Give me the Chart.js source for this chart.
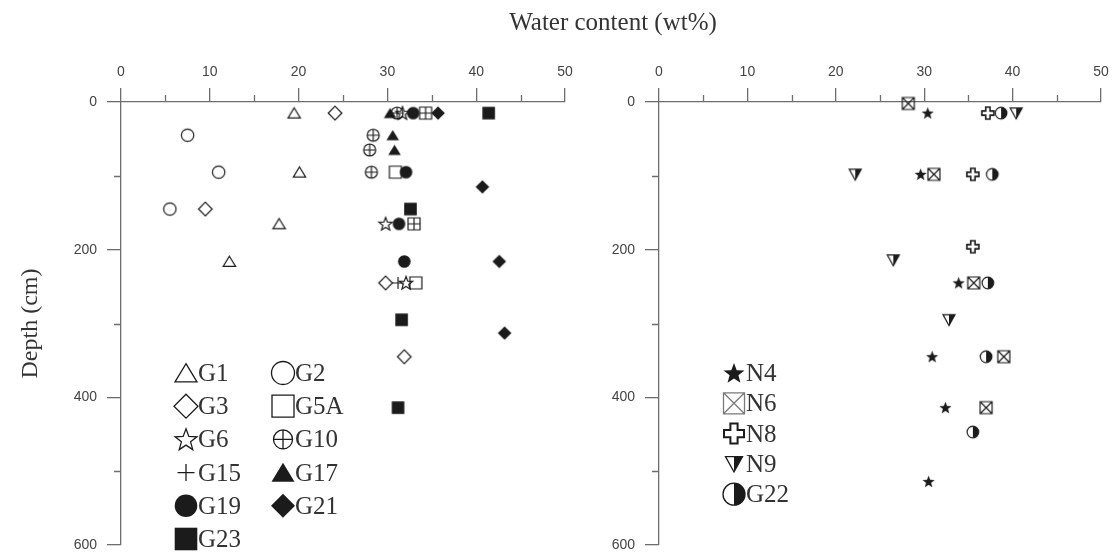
<!DOCTYPE html>
<html>
<head>
<meta charset="utf-8">
<title>Water content vs depth</title>
<script src="https://cdn.jsdelivr.net/npm/chart.js@4.4.0/dist/chart.umd.min.js"></script>
<style>
  html, body { margin: 0; padding: 0; background: #fff; }
  #wrap { position: relative; width: 1118px; height: 558px; }
  #wrap canvas { position: absolute; left: 0; top: 0; }
</style>
</head>
<body>
<div id="wrap">
  <canvas id="leftChart" width="1118" height="558"></canvas>
  <canvas id="rightChart" width="1118" height="558"></canvas>
</div>
<script>
// rows are [water content (wt%), depth (cm)]
const G1 = [[19.5, 15], [20.1, 95], [17.8, 165], [12.2, 216]];
const G2 = [[7.5, 45], [11.0, 95], [5.5, 145]];
const G3 = [[24.1, 15], [9.5, 145], [29.8, 245], [31.9, 345]];
const G5A = [[34.3, 15], [30.9, 95], [33.0, 165], [33.2, 245]];
const G6 = [[31.7, 15], [29.8, 165], [32.1, 245]];
const G10 = [[31.1, 15], [28.4, 45], [28.0, 65], [28.2, 95]];
const G15 = [[34.3, 15], [33.0, 165], [31.2, 245]];
const G17 = [[30.3, 15], [30.6, 45], [30.8, 65]];
const G19 = [[32.9, 15], [32.1, 95], [31.3, 165], [31.9, 216]];
const G21 = [[35.7, 15], [40.7, 115], [42.6, 216], [43.2, 313]];
const G23 = [[41.4, 15], [32.6, 145], [31.6, 295], [31.2, 414]];

const N4 = [[30.4, 15], [29.6, 98], [33.9, 245], [30.9, 345], [32.4, 414], [30.5, 514]];
const N6 = [[28.2, 2], [31.1, 98], [35.6, 245], [39.0, 345], [37.0, 414]];
const N8 = [[37.2, 15], [35.5, 98], [35.5, 196]];
const N9 = [[40.4, 15], [22.2, 98], [26.5, 214], [32.8, 295]];
const G22 = [[38.7, 15], [37.7, 98], [37.2, 245], [37.0, 345], [35.5, 447]];

const waterTicks = [0, 10, 20, 30, 40, 50];
const waterMinor = [5, 15, 25, 35, 45];
const depthTicks = [0, 200, 400, 600];
const depthMinor = [100, 300, 500];

const INK = '#1b1b1b';
const AXIS = '#6e6e6e';
const LABEL = '#444';
const SERIF = '"Liberation Serif", "DejaVu Serif", serif';

Chart.defaults.font.family = '"Liberation Sans", Arial, sans-serif';

// marker drawing, s = half extent
function drawSymbol(ctx, kind, x, y, s, lw, color) {
  const PI = Math.PI;
  ctx.save();
  ctx.translate(x, y);
  ctx.lineWidth = lw || 1.2;
  ctx.strokeStyle = color || INK;
  ctx.fillStyle = color || INK;
  ctx.beginPath();
  if (kind === 'triangle' || kind === 'triangleFilled') {
    ctx.moveTo(0, -0.85 * s); ctx.lineTo(s, 0.8 * s); ctx.lineTo(-s, 0.8 * s); ctx.closePath();
    kind === 'triangle' ? ctx.stroke() : ctx.fill();
  } else if (kind === 'circle' || kind === 'circleFilled') {
    ctx.arc(0, 0, s, 0, 2 * PI);
    kind === 'circle' ? ctx.stroke() : ctx.fill();
  } else if (kind === 'diamond' || kind === 'diamondFilled') {
    ctx.moveTo(0, -s); ctx.lineTo(s, 0); ctx.lineTo(0, s); ctx.lineTo(-s, 0); ctx.closePath();
    kind === 'diamond' ? ctx.stroke() : ctx.fill();
  } else if (kind === 'square' || kind === 'squareFilled') {
    ctx.rect(-s, -s, 2 * s, 2 * s);
    kind === 'square' ? ctx.stroke() : ctx.fill();
  } else if (kind === 'star' || kind === 'starFilled') {
    for (let i = 0; i < 10; i++) {
      const r = i % 2 ? s * 0.42 : s;
      const a = -PI / 2 + i * PI / 5;
      ctx.lineTo(r * Math.cos(a), r * Math.sin(a) + 0.08 * s);
    }
    ctx.closePath();
    kind === 'star' ? ctx.stroke() : ctx.fill();
  } else if (kind === 'circlePlus') {
    ctx.arc(0, 0, s, 0, 2 * PI);
    ctx.moveTo(-s, 0); ctx.lineTo(s, 0);
    ctx.moveTo(0, -s); ctx.lineTo(0, s);
    ctx.stroke();
  } else if (kind === 'plus') {
    ctx.moveTo(-s, 0); ctx.lineTo(s, 0);
    ctx.moveTo(0, -s); ctx.lineTo(0, s);
    ctx.stroke();
  } else if (kind === 'squareX') {
    ctx.rect(-s, -s, 2 * s, 2 * s);
    ctx.moveTo(-s, -s); ctx.lineTo(s, s);
    ctx.moveTo(s, -s); ctx.lineTo(-s, s);
    ctx.stroke();
  } else if (kind === 'crossOutline') {
    const a = 0.36 * s;
    const pts = [[-a, -s], [a, -s], [a, -a], [s, -a], [s, a], [a, a], [a, s], [-a, s], [-a, a], [-s, a], [-s, -a], [-a, -a]];
    pts.forEach(([px, py], i) => i ? ctx.lineTo(px, py) : ctx.moveTo(px, py));
    ctx.closePath();
    ctx.stroke();
  } else if (kind === 'triangleDownHalf') {
    ctx.moveTo(0, -0.85 * s); ctx.lineTo(s, -0.85 * s); ctx.lineTo(0, 0.95 * s); ctx.closePath();
    ctx.fill();
    ctx.beginPath();
    ctx.moveTo(-s, -0.85 * s); ctx.lineTo(s, -0.85 * s); ctx.lineTo(0, 0.95 * s); ctx.closePath();
    ctx.stroke();
  } else if (kind === 'circleHalf') {
    ctx.arc(0, 0, s, -PI / 2, PI / 2);
    ctx.closePath();
    ctx.fill();
    ctx.beginPath();
    ctx.arc(0, 0, s, 0, 2 * PI);
    ctx.stroke();
  }
  ctx.restore();
}

function symbolImage(kind, s, lw) {
  const c = document.createElement('canvas');
  const n = Math.ceil(2 * s + 4);
  c.width = n; c.height = n;
  drawSymbol(c.getContext('2d'), kind, n / 2, n / 2, s, lw);
  return c;
}

// label, rows, marker, data size, legend size
const leftSeries = [
  ['G1', G1, 'triangle', 6.2, 11],
  ['G3', G3, 'diamond', 6.8, 12],
  ['G6', G6, 'star', 7, 11.5],
  ['G15', G15, 'plus', 6, 8.5],
  ['G19', G19, 'circleFilled', 6.3, 11.3],
  ['G23', G23, 'squareFilled', 6.3, 11.3],
  ['G2', G2, 'circle', 6.2, 11.5],
  ['G5A', G5A, 'square', 6, 11],
  ['G10', G10, 'circlePlus', 6, 9.5],
  ['G17', G17, 'triangleFilled', 6.3, 11.5],
  ['G21', G21, 'diamondFilled', 6.8, 12]
];

const rightSeries = [
  ['N4', N4, 'starFilled', 6.4, 11],
  ['N6', N6, 'squareX', 6, 10.5],
  ['N8', N8, 'crossOutline', 6, 10],
  ['N9', N9, 'triangleDownHalf', 6, 8.5],
  ['G22', G22, 'circleHalf', 5.8, 11]
];

function toDatasets(list) {
  return list.map(([label, rows, kind, size]) => ({
    label: label,
    data: rows.map(([w, d]) => ({ x: w, y: d })),
    pointStyle: symbolImage(kind, size, kind === 'crossOutline' ? 1.6 : 1.2),
    pointRadius: size,
    showLine: false,
    clip: false
  }));
}

function makeScales(yTitle) {
  return {
    x: {
      type: 'linear', position: 'top', min: 0, max: 50,
      afterFit: s => { s.height = 102; },
      afterBuildTicks: s => { s.ticks = waterTicks.map(v => ({ value: v })); },
      grid: { drawOnChartArea: false, tickLength: 14, color: AXIS, lineWidth: 1.3 },
      border: { color: AXIS, width: 1.3 },
      ticks: { padding: 7, color: LABEL, font: { size: 14 } }
    },
    y: {
      type: 'linear', position: 'left', min: 0, max: 600, reverse: true,
      afterFit: s => { s.width = 121; s.paddingTop = 0; s.paddingBottom = 0; },
      afterBuildTicks: s => { s.ticks = depthTicks.map(v => ({ value: v })); },
      grid: { drawOnChartArea: false, tickLength: 14, color: AXIS, lineWidth: 1.3 },
      border: { color: AXIS, width: 1.3 },
      ticks: { padding: 10, color: LABEL, font: { size: 14 } },
      title: {
        display: !!yTitle, text: yTitle || '', color: '#333',
        font: { family: SERIF, size: 24 }, padding: { top: 16, bottom: 0 }
      }
    }
  };
}

// short ticks at the half steps
const minorTicks = {
  id: 'minorTicks',
  afterDraw(chart) {
    const { ctx, chartArea, scales } = chart;
    ctx.save();
    ctx.strokeStyle = AXIS;
    ctx.lineWidth = 1.3;
    ctx.beginPath();
    waterMinor.forEach(v => {
      const px = Math.round(scales.x.getPixelForValue(v)) + 0.5;
      ctx.moveTo(px, chartArea.top); ctx.lineTo(px, chartArea.top - 7);
    });
    depthMinor.forEach(v => {
      const py = Math.round(scales.y.getPixelForValue(v)) + 0.5;
      ctx.moveTo(chartArea.left, py); ctx.lineTo(chartArea.left - 7, py);
    });
    ctx.stroke();
    ctx.restore();
  }
};

function symbolLegend(list, x0, y0, colGap, rowGap, perCol, colors) {
  return {
    id: 'symbolLegend',
    afterDraw(chart) {
      const ctx = chart.ctx;
      list.forEach(([label, , kind, , size], i) => {
        const cx = x0 + Math.floor(i / perCol) * colGap;
        const cy = y0 + (i % perCol) * rowGap;
        drawSymbol(ctx, kind, cx, cy, size, kind === 'crossOutline' ? 2 : 1.3, colors && colors[label]);
        ctx.save();
        ctx.fillStyle = '#333';
        ctx.font = '25px ' + SERIF;
        ctx.textBaseline = 'alphabetic';
        ctx.fillText(label, cx + 12, cy + 8);
        ctx.restore();
      });
    }
  };
}

const topTitle = {
  id: 'topTitle',
  afterDraw(chart) {
    const ctx = chart.ctx;
    ctx.save();
    ctx.fillStyle = '#333';
    ctx.font = '25px ' + SERIF;
    ctx.textAlign = 'center';
    ctx.fillText('Water content (wt%)', 613, 30);
    ctx.restore();
  }
};

const common = {
  responsive: false,
  animation: false,
  events: [],
  plugins: { legend: { display: false }, tooltip: { enabled: false } }
};

new Chart(document.getElementById('leftChart'), {
  type: 'scatter',
  data: { datasets: toDatasets(leftSeries) },
  options: Object.assign({}, common, {
    layout: { padding: { left: 0, top: 0, right: 553, bottom: 13 } },
    scales: makeScales('Depth (cm)')
  }),
  plugins: [minorTicks, symbolLegend(leftSeries, 186, 373, 97, 33.2, 6), topTitle]
});

new Chart(document.getElementById('rightChart'), {
  type: 'scatter',
  data: { datasets: toDatasets(rightSeries) },
  options: Object.assign({}, common, {
    layout: { padding: { left: 538, top: 0, right: 17, bottom: 13 } },
    scales: makeScales(null)
  }),
  plugins: [minorTicks, symbolLegend(rightSeries, 734, 373, 0, 30.3, 5, { N6: '#7a7a7a' })]
});
</script>
</body>
</html>
